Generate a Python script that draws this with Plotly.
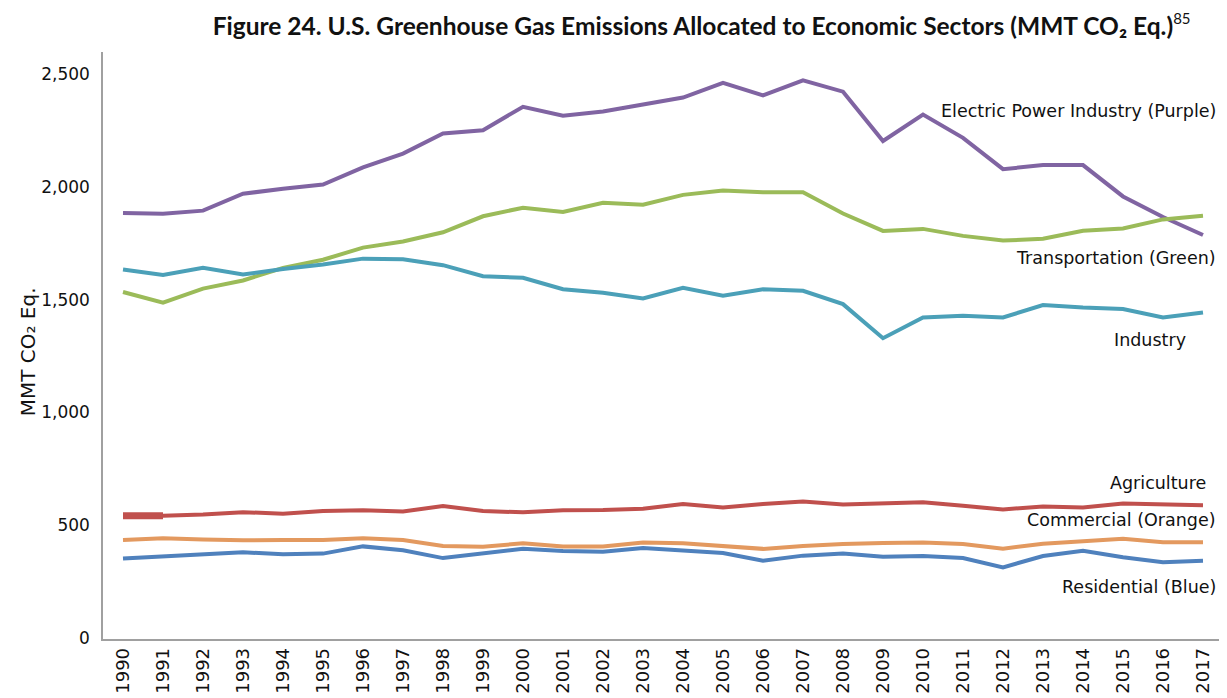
import plotly.graph_objects as go

years = [str(y) for y in range(1990, 2018)]

electric_power = [1886, 1882, 1896, 1971, 1993, 2012, 2088, 2149, 2238, 2253,
                  2357, 2317, 2336, 2365, 2398, 2463, 2407, 2474, 2424, 2205,
                  2322, 2219, 2080, 2098, 2098, 1959, 1868, 1788]
transportation = [1535, 1488, 1550, 1586, 1642, 1678, 1732, 1759, 1800, 1871,
                  1909, 1890, 1931, 1922, 1966, 1985, 1978, 1978, 1883, 1806,
                  1815, 1784, 1763, 1771, 1807, 1817, 1857, 1873]
industry = [1635, 1610, 1642, 1613, 1637, 1657, 1683, 1680, 1654, 1605,
            1598, 1547, 1532, 1506, 1554, 1518, 1547, 1540, 1481, 1330,
            1422, 1430, 1422, 1477, 1466, 1459, 1422, 1444]
agriculture = [542, 542, 548, 558, 551, 563, 566, 561, 585, 563,
               557, 566, 567, 573, 594, 579, 594, 605, 592, 595,
               602, 586, 570, 583, 579, 596, 591, 589]
commercial = [434, 442, 437, 433, 434, 434, 442, 434, 408, 404,
              420, 406, 406, 423, 420, 409, 395, 408, 417, 421,
              423, 417, 396, 418, 428, 440, 424, 424]
residential = [352, 361, 368, 380, 371, 374, 406, 389, 354, 373,
               396, 386, 382, 399, 387, 377, 342, 365, 374, 360,
               363, 354, 313, 363, 387, 358, 336, 342]

series = [
    ("Electric Power Industry", electric_power, "#8064A2"),
    ("Transportation", transportation, "#9BBB59"),
    ("Industry", industry, "#4BA0B8"),
    ("Agriculture", agriculture, "#C0504D"),
    ("Commercial", commercial, "#E3995F"),
    ("Residential", residential, "#4F81BD"),
]

# label text, y position in data units, right edge in paper units
labels = [
    ("Electric Power Industry (Purple)", 2338, 0.9955),
    ("Transportation (Green)", 1684, 0.9955),
    ("Industry", 1320, 0.969),
    ("Agriculture", 689, 0.987),
    ("Commercial (Orange)", 522, 0.9955),
    ("Residential (Blue)", 228, 0.9955),
]

fig = go.Figure()
for name, values, color in series:
    fig.add_trace(go.Scatter(x=years, y=values, name=name, mode="lines",
                             line=dict(color=color, width=4)))

# the original draws the first agriculture segment heavier
fig.add_trace(go.Scatter(x=years[:2], y=agriculture[:2], mode="lines",
                         line=dict(color="#C0504D", width=7), hoverinfo="skip"))

for text, y, x in labels:
    fig.add_annotation(text=text, x=x, y=y, xref="paper", yref="y",
                       xanchor="right", yanchor="middle", showarrow=False,
                       font=dict(family="DejaVu Sans", size=17.5, color="#111"))

fig.add_annotation(text="MMT CO₂ Eq.", x=-0.067, y=0.49, xref="paper", yref="paper",
                   textangle=-90, showarrow=False, xanchor="center", yanchor="middle",
                   font=dict(family="DejaVu Sans", size=20, color="#111"))

# the page body adds an 8px margin, so the figure is drawn 8px smaller
fig.update_layout(
    width=1219, height=690,
    margin=dict(l=95, r=4, t=44, b=52),
    paper_bgcolor="white", plot_bgcolor="white",
    showlegend=False,
    title=dict(
        text="<b>Figure 24. U.S. Greenhouse Gas Emissions Allocated to Economic Sectors (MMT CO₂ Eq.)</b>"
             "<sup><span style='font-size:15px'>85</span></sup>",
        x=0.569, xanchor="center", y=0.974, yanchor="middle",
        font=dict(family="Lato", size=24.5, color="#111"),
    ),
)
fig.update_xaxes(type="category", range=[-0.5, 27.5], tickangle=-90,
                 showgrid=False, showline=True, linecolor="#a0a0a0", linewidth=1.5,
                 ticks="", tickfont=dict(family="DejaVu Sans", size=18, color="#111"))
fig.update_yaxes(range=[-5, 2600], tickvals=[0, 500, 1000, 1500, 2000, 2500],
                 tickformat=",", showgrid=False, zeroline=False,
                 showline=True, linecolor="#a0a0a0", linewidth=1.5, ticks="",
                 ticklabelstandoff=8,
                 tickfont=dict(family="DejaVu Sans", size=17, color="#111"))

fig.write_html("out.html")
